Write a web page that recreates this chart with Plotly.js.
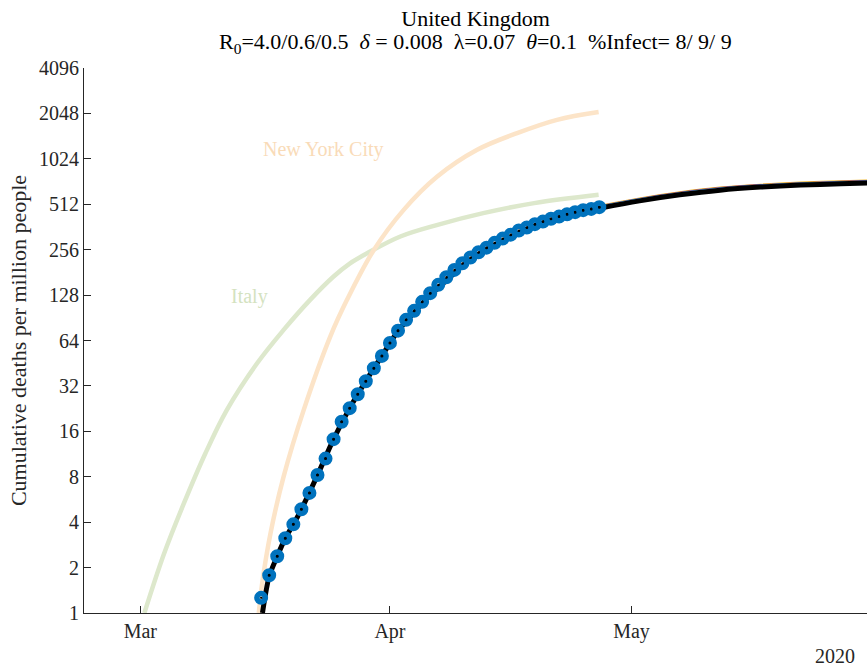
<!DOCTYPE html>
<html>
<head>
<meta charset="utf-8">
<script src="https://cdn.plot.ly/plotly-3.0.1.min.js"></script>
<style>
  html, body { margin: 0; padding: 0; background: #fff; }
  #chart { width: 867px; height: 667px; }
</style>
</head>
<body>
<div id="chart"></div>
<script>
// Observed cumulative deaths per million, United Kingdom (daily)
const ukDates = [
  '2020-03-16','2020-03-17','2020-03-18','2020-03-19','2020-03-20','2020-03-21','2020-03-22',
  '2020-03-23','2020-03-24','2020-03-25','2020-03-26','2020-03-27','2020-03-28','2020-03-29',
  '2020-03-30','2020-03-31','2020-04-01','2020-04-02','2020-04-03','2020-04-04','2020-04-05',
  '2020-04-06','2020-04-07','2020-04-08','2020-04-09','2020-04-10','2020-04-11','2020-04-12',
  '2020-04-13','2020-04-14','2020-04-15','2020-04-16','2020-04-17','2020-04-18','2020-04-19',
  '2020-04-20','2020-04-21','2020-04-22','2020-04-23','2020-04-24','2020-04-25','2020-04-26',
  '2020-04-27'
];
const ukDeaths = [
  1.26, 1.78, 2.38, 3.13, 3.87, 4.87, 6.25,
  8.22, 10.55, 14.2, 18.5, 22.8, 28.2, 34.4,
  41.9, 50.6, 61.7, 74.4, 87.7, 100.6, 115.4,
  131.8, 149.6, 168.2, 188, 208, 227, 246,
  264, 284, 303, 322, 343, 359, 378,
  393, 410, 424, 440, 454, 468, 477,
  490
];

// Fitted model curve
const modelDates = [
  '2020-03-16 04:00','2020-03-17','2020-03-18','2020-03-19','2020-03-20','2020-03-21',
  '2020-03-23','2020-03-25','2020-03-27','2020-03-29','2020-03-31','2020-04-02',
  '2020-04-04','2020-04-06','2020-04-08','2020-04-10','2020-04-12','2020-04-14',
  '2020-04-16','2020-04-18','2020-04-20','2020-04-22','2020-04-24','2020-04-27',
  '2020-05-02','2020-05-07','2020-05-12','2020-05-17','2020-05-22','2020-05-27','2020-05-31'
];
const modelDeaths = [
  1, 1.75, 2.38, 3.13, 3.87, 4.87,
  8.2, 14.2, 22.8, 34.4, 50.6, 74,
  98, 128, 160, 200, 238, 275,
  312, 350, 385, 418, 448, 482,
  539, 591, 635, 665, 686, 700, 710
];

// Alternative model runs, nearly coincident with the main fit
const variantDates = [
  '2020-04-20','2020-04-24','2020-04-27','2020-05-02','2020-05-07',
  '2020-05-12','2020-05-17','2020-05-22','2020-05-27','2020-05-31'
];
const variantA = [400, 466, 502, 563, 618, 664, 695, 717, 731, 742];
const variantB = [398, 463, 499, 559, 613, 659, 690, 711, 726, 736];
const variantC = [396, 461, 496, 556, 609, 654, 685, 706, 721, 731];

// Comparison curves
const italyDates = [
  '2020-03-01 12:00','2020-03-03 22:00','2020-03-06 09:00','2020-03-09 02:00','2020-03-11 18:00',
  '2020-03-15 12:00','2020-03-18 19:00','2020-03-22 02:00','2020-03-25 00:00','2020-03-27 00:00',
  '2020-03-29 05:00','2020-04-02 07:00','2020-04-06 22:00','2020-04-12 14:00','2020-04-18 22:00',
  '2020-04-26 22:00'
];
const italyDeaths = [1, 2.45, 5.28, 11.45, 22.2, 45.2, 75.2, 119, 170, 207, 243, 313, 374, 447, 521, 591];

const nycDates = [
  '2020-03-15 17:00','2020-03-16 03:00','2020-03-17 04:00','2020-03-18 19:00','2020-03-21 07:00',
  '2020-03-24 14:00','2020-03-26 16:00','2020-03-30 00:00','2020-04-02 17:00','2020-04-06 21:00',
  '2020-04-11 20:00','2020-04-16 19:00','2020-04-21 18:00','2020-04-26 22:00'
];
const nycDeaths = [1, 1.57, 3.38, 8.01, 22.2, 67.9, 119, 255, 470, 781, 1175, 1516, 1857, 2090];

// Axis ticks
const yTickVals = [1, 2, 4, 8, 16, 32, 64, 128, 256, 512, 1024, 2048, 4096];
const yTickText = yTickVals.map(String);
const xTickVals = ['2020-03-01', '2020-04-01', '2020-05-01'];
const xTickText = ['Mar', 'Apr', 'May'];

const serif = 'Liberation Serif, Times New Roman, Times, serif';
const axisGray = '#262626';
const italyColor = '#dde8cc';
const nycColor = '#fce4c8';
const dataBlue = '#0072BD';

const traces = [
  { x: italyDates, y: italyDeaths, type: 'scatter', mode: 'lines',
    line: { color: italyColor, width: 4.5, shape: 'spline', smoothing: 1 } },
  { x: nycDates, y: nycDeaths, type: 'scatter', mode: 'lines',
    line: { color: nycColor, width: 4.5, shape: 'spline', smoothing: 1 } },
  { x: variantDates, y: variantA, type: 'scatter', mode: 'lines',
    line: { color: '#EDB120', width: 1.2, shape: 'spline' } },
  { x: variantDates, y: variantB, type: 'scatter', mode: 'lines',
    line: { color: '#7E2F8E', width: 1.2, shape: 'spline' } },
  { x: variantDates, y: variantC, type: 'scatter', mode: 'lines',
    line: { color: '#4DBEEE', width: 1.2, shape: 'spline' } },
  { x: modelDates, y: modelDeaths, type: 'scatter', mode: 'lines',
    line: { color: '#000000', width: 5, shape: 'spline', smoothing: 0.8 } },
  { x: ukDates, y: ukDeaths, type: 'scatter', mode: 'markers',
    marker: { symbol: 'circle-open', size: 8.5, color: dataBlue, line: { width: 5.5, color: dataBlue } } },
  { x: ukDates, y: ukDeaths, type: 'scatter', mode: 'markers',
    marker: { symbol: 'circle', size: 2.2, color: '#000000' } }
];

const layout = {
  width: 867,
  height: 667,
  margin: { l: 84, r: 0, t: 68, b: 54, pad: 0 },
  paper_bgcolor: '#ffffff',
  plot_bgcolor: '#ffffff',
  showlegend: false,
  font: { family: serif, size: 20, color: axisGray },
  title: {
    text: 'United Kingdom',
    font: { family: serif, size: 22, color: '#000000' },
    x: 0.5, xref: 'paper', xanchor: 'center',
    y: 1 - 18 / 667, yref: 'container', yanchor: 'middle'
  },
  xaxis: {
    type: 'date',
    range: ['2020-02-23 00:00', '2020-05-30 06:00'],
    tickmode: 'array', tickvals: xTickVals, ticktext: xTickText,
    ticks: 'inside', ticklen: 7, tickwidth: 1, tickcolor: axisGray,
    showline: true, linecolor: axisGray, linewidth: 1,
    showgrid: false, zeroline: false,
    tickfont: { family: serif, size: 20, color: axisGray }
  },
  yaxis: {
    type: 'log',
    range: [0, Math.log10(4096)],
    tickmode: 'array', tickvals: yTickVals, ticktext: yTickText,
    ticks: 'inside', ticklen: 7, tickwidth: 1, tickcolor: axisGray,
    showline: true, linecolor: axisGray, linewidth: 1,
    showgrid: false, zeroline: false,
    tickfont: { family: serif, size: 20, color: axisGray },
    title: { text: 'Cumulative deaths per million people', font: { family: serif, size: 22, color: axisGray }, standoff: 6 }
  },
  annotations: [
    { x: 0.5, y: 1, xref: 'paper', yref: 'paper', yshift: 25,
      text: 'R<sub>0</sub>=4.0/0.6/0.5\u00a0\u00a0<i>δ</i> = 0.008\u00a0\u00a0λ=0.07\u00a0\u00a0<i>θ</i>=0.1\u00a0\u00a0%Infect= 8/ 9/ 9',
      showarrow: false, xanchor: 'center', yanchor: 'middle',
      font: { family: serif, size: 22, color: '#000000' } },
    { x: '2020-03-12 01:00', y: Math.log10(126), xref: 'x', yref: 'y', text: 'Italy',
      showarrow: false, xanchor: 'left', yanchor: 'middle',
      font: { family: serif, size: 20, color: '#d4e2bf' } },
    { x: '2020-03-16 00:00', y: Math.log10(1175), xref: 'x', yref: 'y', text: 'New York City',
      showarrow: false, xanchor: 'left', yanchor: 'middle',
      font: { family: serif, size: 20, color: '#f9dbb8' } },
    { x: 1, y: 0, xref: 'paper', yref: 'paper', text: '2020',
      showarrow: false, xanchor: 'right', yanchor: 'middle', xshift: -10, yshift: -43,
      font: { family: serif, size: 20, color: axisGray } }
  ]
};

Plotly.newPlot('chart', traces, layout, { displayModeBar: false, staticPlot: true });
</script>
</body>
</html>
